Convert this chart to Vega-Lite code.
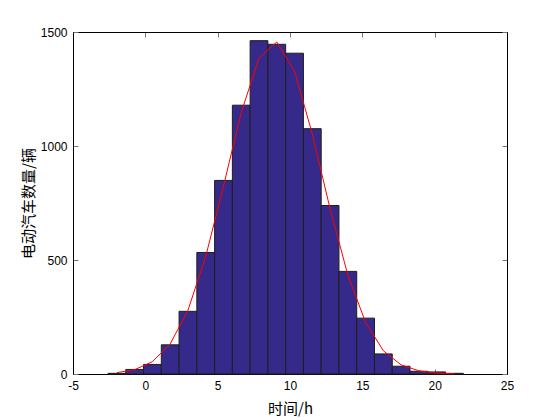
{
  "$schema": "https://vega.github.io/schema/vega-lite/v6.json",
  "width": 434,
  "height": 342,
  "autosize": {"type": "none"},
  "padding": {"left": 73, "top": 32, "right": 53, "bottom": 46},
  "background": "white",
  "config": {
    "view": {"stroke": "black", "strokeWidth": 1},
    "axis": {
      "grid": false,
      "labelFont": "Liberation Sans",
      "labelFontSize": 12,
      "labelColor": "#000",
      "titleFont": "Noto Sans CJK SC",
      "titleFontSize": 15,
      "titleFontWeight": "normal",
      "titleColor": "#000",
      "domainColor": "#000",
      "domainWidth": 1,
      "tickColor": "#777",
      "tickSize": -5,
      "tickWidth": 1
    }
  },
  "data": {
    "values": [
      {"x0": -2.58, "x1": -1.352, "c": -1.966, "count": 3, "fit": 6},
      {"x0": -1.352, "x1": -0.124, "c": -0.738, "count": 20, "fit": 19},
      {"x0": -0.124, "x1": 1.104, "c": 0.49, "count": 42, "fit": 54},
      {"x0": 1.104, "x1": 2.332, "c": 1.718, "count": 128, "fit": 132},
      {"x0": 2.332, "x1": 3.56, "c": 2.946, "count": 275, "fit": 279},
      {"x0": 3.56, "x1": 4.788, "c": 4.174, "count": 533, "fit": 515},
      {"x0": 4.788, "x1": 6.016, "c": 5.402, "count": 849, "fit": 824},
      {"x0": 6.016, "x1": 7.244, "c": 6.63, "count": 1179, "fit": 1147},
      {"x0": 7.244, "x1": 8.472, "c": 7.858, "count": 1462, "fit": 1386},
      {"x0": 8.472, "x1": 9.7, "c": 9.086, "count": 1446, "fit": 1456},
      {"x0": 9.7, "x1": 10.928, "c": 10.314, "count": 1407, "fit": 1328},
      {"x0": 10.928, "x1": 12.156, "c": 11.542, "count": 1076, "fit": 1053},
      {"x0": 12.156, "x1": 13.384, "c": 12.77, "count": 739, "fit": 725},
      {"x0": 13.384, "x1": 14.612, "c": 13.998, "count": 450, "fit": 434},
      {"x0": 14.612, "x1": 15.84, "c": 15.226, "count": 245, "fit": 226},
      {"x0": 15.84, "x1": 17.068, "c": 16.454, "count": 88, "fit": 102},
      {"x0": 17.068, "x1": 18.296, "c": 17.682, "count": 34, "fit": 40},
      {"x0": 18.296, "x1": 19.524, "c": 18.91, "count": 12, "fit": 14},
      {"x0": 19.524, "x1": 20.752, "c": 20.138, "count": 9, "fit": 4},
      {"x0": 20.752, "x1": 21.98, "c": 21.366, "count": 3, "fit": 1}
    ]
  },
  "layer": [
    {
      "mark": {"type": "bar", "fill": "#35298A", "stroke": "#1e1e1e", "strokeWidth": 1},
      "encoding": {
        "x": {
          "field": "x0", "type": "quantitative",
          "scale": {"domain": [-5, 25], "nice": false, "zero": false},
          "axis": {"orient": "bottom", "values": [-5, 0, 5, 10, 15, 20, 25], "labelExpr": "'' + datum.value", "title": "时间/h", "labelPadding": 11, "titlePadding": 10, "labelFlush": false}
        },
        "x2": {"field": "x1"},
        "y": {
          "field": "count", "type": "quantitative",
          "scale": {"domain": [0, 1500], "nice": false},
          "axis": {"orient": "left", "values": [0, 500, 1000, 1500], "labelExpr": "'' + datum.value", "title": "电动汽车数量/辆", "labelPadding": 11, "titlePadding": 4, "labelFlush": false}
        },
        "y2": {"datum": 0}
      }
    },
    {
      "mark": {"type": "line", "color": "#FF0000", "strokeWidth": 1},
      "encoding": {
        "x": {
          "field": "c", "type": "quantitative",
          "scale": {"domain": [-5, 25], "nice": false, "zero": false},
          "axis": {"orient": "top", "values": [-5, 0, 5, 10, 15, 20, 25], "labels": false, "title": null}
        },
        "y": {
          "field": "fit", "type": "quantitative",
          "scale": {"domain": [0, 1500], "nice": false},
          "axis": {"orient": "right", "values": [0, 500, 1000, 1500], "labels": false, "title": null}
        }
      }
    }
  ],
  "resolve": {"axis": {"x": "independent", "y": "independent"}}
}
